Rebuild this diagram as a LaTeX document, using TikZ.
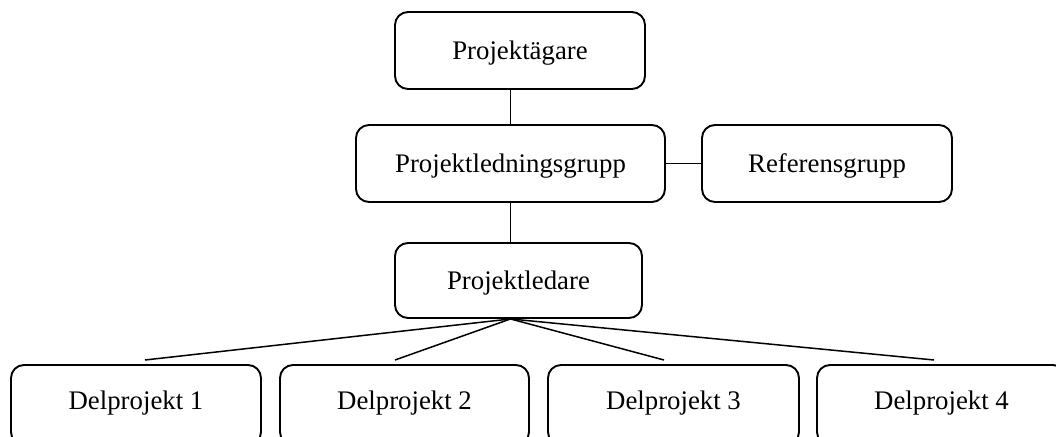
\documentclass[tikz,border=0pt]{standalone}
\usepackage{fontspec}
\setmainfont{Liberation Serif}
\begin{document}
\begin{tikzpicture}[x=1pt,y=-1pt,
  box/.style={draw=black, line width=1.9pt, rounded corners=13pt, inner sep=0pt,
    font=\fontsize{26.8}{31}\selectfont, text height=17.5pt, text depth=0pt},
  dbox/.style={box, text depth=8pt},
  conn/.style={draw=black, line width=1.5pt}]
\useasboundingbox (0,0) rectangle (1056,436);
\clip (0,0) rectangle (1056,436);
\node[box, minimum width=250pt, minimum height=77pt] (pa) at (520,50.5) {Projektägare};
\node[box, minimum width=309pt, minimum height=77pt] (plg) at (510.5,163.5) {Projektledningsgrupp};
\node[box, minimum width=250pt, minimum height=77pt] (rg) at (827,163.5) {Referensgrupp};
\node[box, minimum width=247pt, minimum height=75pt] (pl) at (518.5,280.5) {Projektledare};
\node[dbox, minimum width=250pt, minimum height=80pt] (d1) at (136,405) {Delprojekt 1};
\node[dbox, minimum width=249pt, minimum height=80pt] (d2) at (404.5,405) {Delprojekt 2};
\node[dbox, minimum width=251pt, minimum height=80pt] (d3) at (673.5,405) {Delprojekt 3};
\node[dbox, minimum width=249pt, minimum height=80pt] (d4) at (941.5,405) {Delprojekt 4};
\coordinate (e1) at (145,360);
\coordinate (e2) at (395,360);
\coordinate (e3) at (664,360);
\coordinate (e4) at (934,360);
\draw[conn] (pa.south -| plg.north) -- (plg.north);
\draw[conn] (plg.east) -- (rg.west);
\draw[conn] (plg.south) -- (plg.south |- pl.north);
\draw[conn] (plg.south |- pl.south) -- (e1);
\draw[conn] (plg.south |- pl.south) -- (e2);
\draw[conn] (plg.south |- pl.south) -- (e3);
\draw[conn] (plg.south |- pl.south) -- (e4);
\end{tikzpicture}
\end{document}
